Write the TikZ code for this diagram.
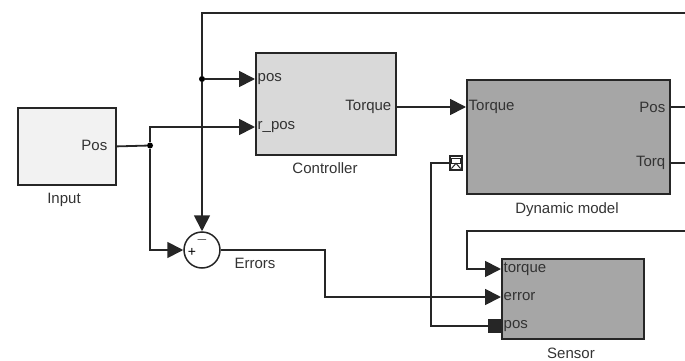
\documentclass[tikz,border=0pt]{standalone}
\usepackage{fontspec}
\setmainfont{Liberation Sans}
\usetikzlibrary{positioning, arrows.meta, calc}
\tikzset{
  block/.style={
    rectangle,
    draw=black!85, line width=1.8pt,
    anchor=north west,
    inner sep=0pt
  },
  portlabel/.style={
    font=\fontsize{15}{17}\selectfont,
    text=black!80,
    inner sep=1.5pt
  },
  caption/.style={
    font=\fontsize{15}{17}\selectfont,
    text=black!80,
    inner sep=0pt
  },
  wire/.style={
    draw=black!85,
    line width=1.8pt
  },
  arrow/.style={
    wire,
    -{Triangle[length=16pt, width=16pt]}
  },
  plug/.style={
    wire,
    -{Square[length=13pt, width=14pt]}
  },
  junction/.style={
    circle,
    fill=black,
    inner sep=0pt,
    minimum size=6pt
  }
}

\begin{document}
\begin{tikzpicture}[x=1pt, y=-1pt]
\useasboundingbox (0,0) rectangle (685,361);

% nodes
\node[block, fill=black!5, minimum width=98pt, minimum height=77pt] (input) at (17,107) {};
\node[portlabel, anchor=east] (inpos) at (109,145) {Pos};
\node[caption] (inputcap) at (64,200) {Input};

\node[block, fill=black!15, minimum width=140pt, minimum height=102pt] (ctrl) at (255,52) {};
\node[portlabel, anchor=west] (cpos) at (256,79) {pos};
\node[portlabel, anchor=west] (crpos) at (256,127) {r\_pos};
\node[portlabel, anchor=east] (ctorque) at (393,107) {Torque};
\node[caption] (ctrlcap) at (325,168) {Controller};

\node[block, fill=black!35, minimum width=203pt, minimum height=114pt] (dyn) at (466,79) {};
\node[portlabel, anchor=west] (dtorque) at (467,107) {Torque};
\node[portlabel, anchor=east] (dpos) at (667,107) {Pos};
\node[portlabel, anchor=east] (dtorq) at (667,163) {Torq};
\node[caption] (dyncap) at (567,210) {Dynamic model};

\node[block, fill=black!35, minimum width=142pt, minimum height=80pt] (sens) at (501,258) {};
\node[portlabel, anchor=west] (storque) at (502,269) {torque};
\node[portlabel, anchor=west] (serror) at (502,297) {error};
\node[portlabel, anchor=west] (spos) at (502,326) {pos};
\node[caption] (senscap) at (571,353) {Sensor};

\node[circle, draw=black!85, line width=1.5pt, minimum size=36pt, inner sep=0pt] (sum) at (202,250) {};
\node[font=\fontsize{14}{15}\selectfont, inner sep=0pt] (plus) at (192,252) {+};
\node[font=\fontsize{14}{15}\selectfont, inner sep=0pt] (minus) at (202,240) {$-$};
\node[caption] (errcap) at (255,263) {Errors};

\node[draw=black!85, line width=1.2pt, fill=white, minimum width=12pt, minimum height=14pt, inner sep=0pt] (enport) at (456,163) {};
\draw[black!85, line width=1pt] ($(enport.north west)+(2.5,3)$) rectangle ($(enport.north east)+(-2.5,8)$);
\draw[black!85, line width=1pt] ($(enport.south west)+(2,-2)$) -- ($(enport.north)+(0,8)$) -- ($(enport.south east)+(-2,-2)$);

\node[junction] (j1) at (150,145.5) {};
\node[junction] (j2) at (202,79) {};

\coordinate (topend) at (685,13);
\coordinate (posend) at (685,107);
\coordinate (torqend) at (685,163);
\coordinate (fbend) at (685,231);
\coordinate (fbturn) at (467,231);
\coordinate (errturn) at (325,250);
\coordinate (plugturn) at (431,163);

% edges

%% input
\draw [wire] (input.east) -- (j1);
\draw [arrow] (j1) |- (ctrl.west |- crpos.west);
\draw [arrow] (j1) |- (sum.west);

%% feedback of position
\draw [wire] (topend) -| (j2);
\draw [arrow] (j2) -- (ctrl.west |- cpos.west);
\draw [arrow] (j2) -- (sum.north);

%% controller
\draw [arrow] (ctrl.east |- ctorque.east) -- (dyn.west |- ctorque.east);

%% dynamic model
\draw [wire] (dyn.east |- dpos.east) -- (posend);
\draw [wire] (dyn.east |- dtorq.east) -- (torqend);

%% sensor
\draw [arrow] (fbend) -- (fbturn) |- (sens.west |- storque.west);
\draw [arrow] (sum.east) -- (errturn) |- (sens.west |- serror.west);
\draw [plug] (enport.west) -- (plugturn) |- (sens.west |- spos.west);

\end{tikzpicture}
\end{document}
